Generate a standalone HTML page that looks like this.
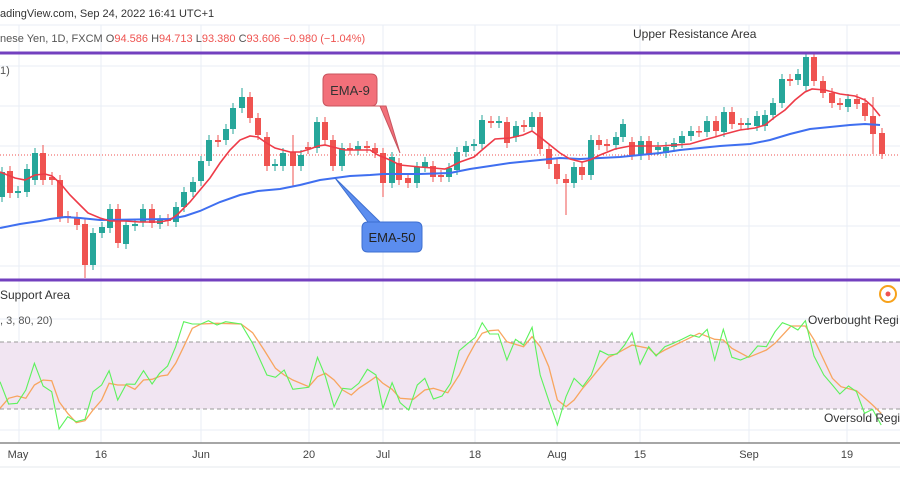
<!DOCTYPE html>
<html><head><meta charset="utf-8"><style>
body{margin:0;width:900px;height:500px;background:#fff;overflow:hidden;font-family:"Liberation Sans",sans-serif}
svg{position:absolute;left:0;top:0}
</style></head><body>
<svg id="s" width="900" height="500" xmlns="http://www.w3.org/2000/svg">
<g id="grid" stroke="#e9eef5" stroke-width="1"></g>
<rect x="0" y="342" width="900" height="67" fill="#f1e5f2"/>
<line x1="0" y1="342" x2="900" y2="342" stroke="#9a9a9a" stroke-dasharray="4,3"/>
<line x1="0" y1="409" x2="900" y2="409" stroke="#9a9a9a" stroke-dasharray="4,3"/>
<line x1="0" y1="443" x2="900" y2="443" stroke="#888" stroke-width="1.5"/>
<line x1="0" y1="155" x2="900" y2="155" stroke="#ef5350" stroke-dasharray="1,2" stroke-width="1"/>
<g id="c"></g>
<polyline id="e50" fill="none" stroke="#3f6ff0" stroke-width="2"/>
<polyline id="e9" fill="none" stroke="#ee3b48" stroke-width="1.6"/>
<polyline id="og" fill="none" stroke="#f8a55f" stroke-width="1.3"/>
<polyline id="gr" fill="none" stroke="#5cf25c" stroke-width="1.1"/>
<line x1="0" y1="53" x2="900" y2="53" stroke="#7340bf" stroke-width="3"/>
<line x1="0" y1="280" x2="900" y2="280" stroke="#7340bf" stroke-width="3"/>
<path d="M329,74 H371 Q377,74 377,80 V100 Q377,106 371,106 H386 L400,153 L380,106 H329 Q323,106 323,100 V80 Q323,74 329,74Z" fill="#f2707a" stroke="#c8545e"/>
<text x="350" y="95" font-size="13" fill="#333" text-anchor="middle">EMA-9</text>
<path d="M368,222 H416 Q422,222 422,228 V246 Q422,252 416,252 H368 Q362,252 362,246 V228 Q362,222 368,222 H380 L335,178 Z" fill="#5b8def" stroke="#3e6fd0"/>
<text x="392" y="242" font-size="13" fill="#222" text-anchor="middle">EMA-50</text>
<g font-size="11" fill="#333">
<text x="0" y="17">adingView.com, Sep 24, 2022 16:41 UTC+1</text>
<text x="0" y="42" fill="#555">nese Yen, 1D, FXCM <tspan fill="#555">O</tspan><tspan fill="#ef5350">94.586</tspan> <tspan fill="#555">H</tspan><tspan fill="#ef5350">94.713</tspan> <tspan fill="#555">L</tspan><tspan fill="#ef5350">93.380</tspan> <tspan fill="#555">C</tspan><tspan fill="#ef5350">93.606</tspan> <tspan fill="#ef5350">−0.980 (−1.04%)</tspan></text>
<text x="0" y="74" fill="#555">1)</text>
<text x="633" y="38" font-size="12">Upper Resistance Area</text>
<text x="0" y="299" font-size="12">Support Area</text>
<text x="0" y="324" fill="#555">, 3, 80, 20)</text>
<text x="808" y="324" font-size="12">Overbought Regi</text>
<text x="824" y="422" font-size="12">Oversold Regi</text>
</g>
<circle cx="888" cy="294" r="8" fill="#fff" stroke="#f7a21b" stroke-width="2"/>
<circle cx="888" cy="294" r="2.5" fill="#ef5350"/>
<g font-size="11" fill="#444" text-anchor="middle">
<text x="18" y="458">May</text><text x="101" y="458">16</text><text x="201" y="458">Jun</text><text x="309" y="458">20</text><text x="383" y="458">Jul</text><text x="475" y="458">18</text><text x="557" y="458">Aug</text><text x="640" y="458">15</text><text x="749" y="458">Sep</text><text x="847" y="458">19</text>
</g>
<line x1="0" y1="467" x2="900" y2="467" stroke="#e6e9ee"/>
</svg>
<script>
var ns="http://www.w3.org/2000/svg";
function el(p,t,a){var e=document.createElementNS(ns,t);for(var k in a)e.setAttribute(k,a[k]);p.appendChild(e);return e;}
var g=document.getElementById('grid');
[19,101,201,309,383,475,557,640,749,847].forEach(function(x){el(g,'line',{x1:x,y1:25,x2:x,y2:443});});
[25,66,106,146,186,226,266,319,347,374,403,430].forEach(function(y){el(g,'line',{x1:0,y1:y,x2:900,y2:y});});
// x, top, bottom, color(1 green,0 red), wick top, wick bottom
var C=[[2,172,197,1],[10,171,193,0],[18,191,193,1],[27,169,192,1],[35,153,180,1],[43,153,180,0,145],[52,177,180,0],[60,180,217,0],[68,216,218,0],[77,217,225,0],[85,224,265,0,null,278],[93,233,265,1],[102,227,233,1],[110,209,228,1],[118,209,243,0],[126,225,244,1],[135,224,226,1],[143,209,222,1],[152,209,223,0],[160,220,224,1],[168,219,221,0],[176,207,222,1],[184,192,207,1],[193,182,192,1],[201,161,181,1],[209,140,161,1],[218,140,142,0],[226,129,140,1],[233,108,129,1],[242,97,108,1,88],[250,97,118,0],[258,118,135,0],[267,137,166,0],[275,164,166,1],[283,153,166,1],[293,152,166,0,135,186],[301,155,166,1],[308,147,149,0],[317,122,148,1],[325,122,140,0],[333,140,166,0],[342,148,166,1],[350,148,150,0],[358,146,150,1],[367,146,148,0],[375,148,153,0],[383,153,183,0,null,197],[392,157,183,1],[399,163,180,0],[408,178,183,0],[417,167,183,1],[425,162,167,1],[433,166,177,0],[441,175,177,0],[449,168,177,1],
[457,152,170,1],[466,146,152,1],[474,144,146,1],[482,120,144,1],[491,121,123,0],[499,121,123,1],[507,122,143,0],[516,126,137,1],[524,125,127,0],[532,117,127,1],[540,117,149,0],[549,149,164,0],[557,164,179,0],[566,179,183,0,null,215],[574,167,183,1],[582,167,175,0],[591,140,175,1],[599,140,145,0],[607,144,146,0],[616,137,145,1],[623,124,137,1],[632,142,155,0],[641,141,155,1],[649,141,155,0],[658,147,150,1],[666,147,153,1],[674,143,147,1],[682,136,143,1],[691,131,136,1],[699,131,132,0],[707,121,132,1],[716,121,131,0],[724,112,132,1],[732,112,124,0],[741,123,125,0],[748,123,125,1],[757,116,126,1],[765,115,126,1],[773,103,115,1],[782,79,103,1],[790,79,81,0],[798,74,80,1],[806,57,86,1],[814,57,81,0,54],[823,81,93,0],[832,93,103,0],[840,103,105,0],[848,99,107,1],[857,99,104,0],[865,103,116,0],[873,116,134,0,97,154],[882,133,154,0]];
var cg=document.getElementById('c');
C.forEach(function(d){var col=d[3]?'#26a69a':'#ef5350';var wt=d[4]!=null?d[4]:d[1]-5,wb=d[5]!=null?d[5]:d[2]+5;
el(cg,'line',{x1:d[0],y1:wt,x2:d[0],y2:wb,stroke:col,'stroke-width':1});
el(cg,'rect',{x:d[0]-3,y:d[1],width:6,height:Math.max(1.5,d[2]-d[1]),fill:col});});
function pl(id,a,sx,oy,sy){var s=[];for(var i=0;i<a.length;i+=2)s.push((a[i]*sx).toFixed(1)+','+(oy+a[i+1]*sy).toFixed(1));document.getElementById(id).setAttribute('points',s.join(' '));}
pl('e9',[0,172,15,178,25,180,35,175,45,174,52,176,60,183,70,195,80,205,88,213,100,218,110,221,125,221,140,222,160,222,170,220,178,214,190,202,200,190,210,178,220,163,230,150,240,140,250,136,258,137,265,142,275,148,290,152,300,152,310,149,318,146,325,145,333,147,345,150,360,150,370,150,378,155,390,160,400,165,410,166,420,167,433,168,445,169,450,167,460,162,474,157,482,150,495,139,510,138,523,135,532,131,540,137,550,145,560,153,570,159,582,162,590,160,600,155,615,149,630,146,660,146,675,145,690,144,700,141,715,137,725,134,740,130,755,128,765,125,775,117,785,110,795,100,805,92,812,89,825,90,840,94,855,96,865,100,872,106,880,116],1,0,1);
pl('e50',[0,228,20,224,40,221,50,219,65,217,80,218,100,220,170,219,185,216,200,211,220,202,240,195,258,191,280,189,300,185,320,180,335,178,350,176,370,175,383,174,420,174,450,173,470,169,490,166,510,163,530,161,540,160,560,158,580,159,600,158,620,157,640,155,660,153,680,150,700,148,720,146,750,144,770,140,790,134,810,129,830,127,850,125,865,124,880,125],1,0,1);
pl('gr',[0,395,15,462,30,460,45,420,60,340,75,408,90,425,103,537,118,500,133,515,148,508,162,425,177,405,190,362,205,450,220,402,235,403,250,362,265,402,278,370,292,348,306,290,320,215,335,222,350,222,363,212,378,225,393,215,420,222,440,280,465,375,480,382,495,360,510,418,538,412,553,322,567,380,582,470,597,415,612,418,625,400,640,358,655,375,667,475,683,398,697,458,712,480,727,405,740,385,755,447,770,438,785,400,800,302,815,280,828,262,840,218,853,252,868,252,883,330,898,268,912,285,927,232,941,375,956,452,971,525,986,440,1000,385,1015,410,1030,375,1045,302,1060,315,1075,312,1088,285,1101,248,1115,343,1130,290,1143,318,1158,290,1173,280,1188,268,1203,255,1218,262,1232,238,1245,330,1260,238,1275,322,1290,330,1304,320,1320,288,1335,290,1350,245,1363,218,1378,228,1390,240,1403,212,1418,318,1435,375,1450,405,1463,432,1478,408,1492,425,1506,490,1520,478,1535,525],1/1.742,250,1/3);
pl('og',[0,475,15,445,30,438,45,445,60,405,75,390,90,392,103,455,118,490,133,518,148,512,162,480,177,450,190,400,205,405,220,405,235,418,250,390,265,388,280,378,292,375,306,340,320,290,335,235,350,222,378,220,420,222,440,248,460,300,480,355,495,375,510,390,538,410,553,380,567,370,582,390,597,420,612,435,625,415,640,398,655,380,667,400,683,418,697,445,720,448,740,420,755,415,780,428,800,375,815,320,828,280,840,250,853,242,868,240,883,275,912,290,927,260,941,290,956,350,971,450,986,470,1000,450,1015,415,1030,385,1060,322,1075,310,1101,285,1130,295,1143,315,1158,300,1188,275,1218,250,1245,268,1260,270,1275,295,1304,322,1335,300,1350,280,1378,228,1403,228,1420,275,1435,330,1450,385,1465,410,1492,422,1520,465,1535,490],1/1.742,250,1/3);
</script>
</body></html>
